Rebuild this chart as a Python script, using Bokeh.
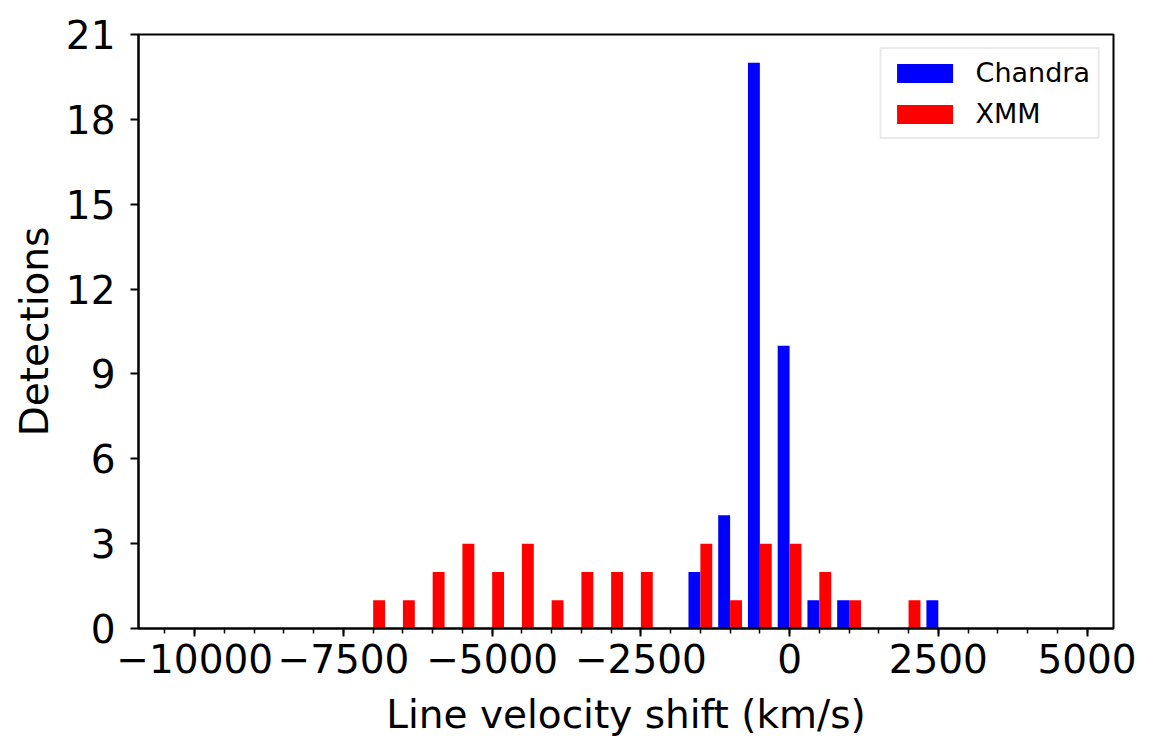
from bokeh.plotting import figure
from bokeh.models import FixedTicker, Range1d, Legend, LegendItem
from bokeh.embed import file_html
from bokeh.resources import INLINE

# ---- data ----
bin_starts = [-7250, -6750, -6250, -5750, -5250, -4750, -4250, -3750, -3250, -2750,
              -2250, -1750, -1250, -750, -250, 250, 750, 1250, 1750, 2250]
bin_width = 500
chandra_counts = [0, 0, 0, 0, 0, 0, 0, 0, 0, 0,
                  0, 2, 4, 20, 10, 1, 1, 0, 0, 1]
xmm_counts = [1, 1, 2, 3, 2, 3, 1, 2, 2, 2,
              0, 3, 1, 3, 3, 2, 1, 0, 1, 0]
x_major_ticks = [-10000, -7500, -5000, -2500, 0, 2500, 5000]
x_minor_ticks = [-10500, -10000, -9500, -9000, -8500, -8000, -7500, -7000, -6500, -6000,
                 -5500, -5000, -4500, -4000, -3500, -3000, -2500, -2000, -1500, -1000,
                 -500, 0, 500, 1000, 1500, 2000, 2500, 3000, 3500, 4000, 4500, 5000]
y_ticks = [0, 3, 6, 9, 12, 15, 18, 21]

FONT = "DejaVu Sans"

p = figure(width=1146, height=746, output_backend="svg", toolbar_location=None,
           x_range=Range1d(-10945, 5445), y_range=Range1d(0, 21),
           min_border_left=138, min_border_right=33, min_border_top=34, min_border_bottom=118)
p.background_fill_color = "white"
p.border_fill_color = "white"
p.xgrid.visible = False
p.ygrid.visible = False
p.outline_line_color = "black"
p.outline_line_width = 2

# bars: two datasets side by side within each bin (matplotlib-style hist layout)
bar_w = 0.4 * bin_width
c_x = [s + 0.3 * bin_width for s, c in zip(bin_starts, chandra_counts) if c > 0]
c_top = [c for c in chandra_counts if c > 0]
x_x = [s + 0.7 * bin_width for s, c in zip(bin_starts, xmm_counts) if c > 0]
x_top = [c for c in xmm_counts if c > 0]

r_c = p.vbar(x=c_x, top=c_top, bottom=0, width=bar_w, fill_color="#0000ff", line_color=None)
r_x = p.vbar(x=x_x, top=x_top, bottom=0, width=bar_w, fill_color="#ff0000", line_color=None)

# axes
xa = p.xaxis[0]
xa.ticker = FixedTicker(ticks=x_major_ticks, minor_ticks=x_minor_ticks)
xa.major_label_overrides = {t: (("\u2212" + str(-t)) if t < 0 else str(t)) for t in x_major_ticks}
ya = p.yaxis[0]
ya.ticker = FixedTicker(ticks=y_ticks)

for ax in (xa, ya):
    ax.axis_line_width = 2
    ax.axis_line_color = "black"
    ax.major_tick_line_width = 2
    ax.major_tick_line_color = "black"
    ax.major_tick_out = 8
    ax.major_tick_in = 0
    ax.minor_tick_line_width = 1.5
    ax.minor_tick_out = 5
    ax.minor_tick_in = 0
    ax.major_label_text_font = FONT
    ax.major_label_text_font_size = "39px"
    ax.major_label_text_color = "black"
    ax.axis_label_text_font = FONT
    ax.axis_label_text_font_size = "39px"
    ax.axis_label_text_font_style = "normal"
    ax.axis_label_text_color = "black"
ya.minor_tick_line_color = None
xa.axis_label = "Line velocity shift (km/s)"
ya.axis_label = "Detections"
xa.major_label_standoff = 7
ya.major_label_standoff = 15
xa.axis_label_standoff = 16
ya.axis_label_standoff = 6

legend = Legend(items=[LegendItem(label="Chandra", renderers=[r_c]),
                       LegendItem(label="XMM", renderers=[r_x])],
                location="top_right")
legend.label_text_font = FONT
legend.label_text_font_size = "27px"
legend.label_text_color = "black"
legend.glyph_width = 70
legend.glyph_height = 24
legend.label_standoff = 16
legend.padding = 8
legend.spacing = 10
legend.margin = 13
legend.border_line_color = "#d5d5d5"
legend.border_line_width = 2
legend.background_fill_color = "white"
legend.background_fill_alpha = 1.0
p.add_layout(legend)

open("out.html", "w").write(file_html(p, INLINE))
